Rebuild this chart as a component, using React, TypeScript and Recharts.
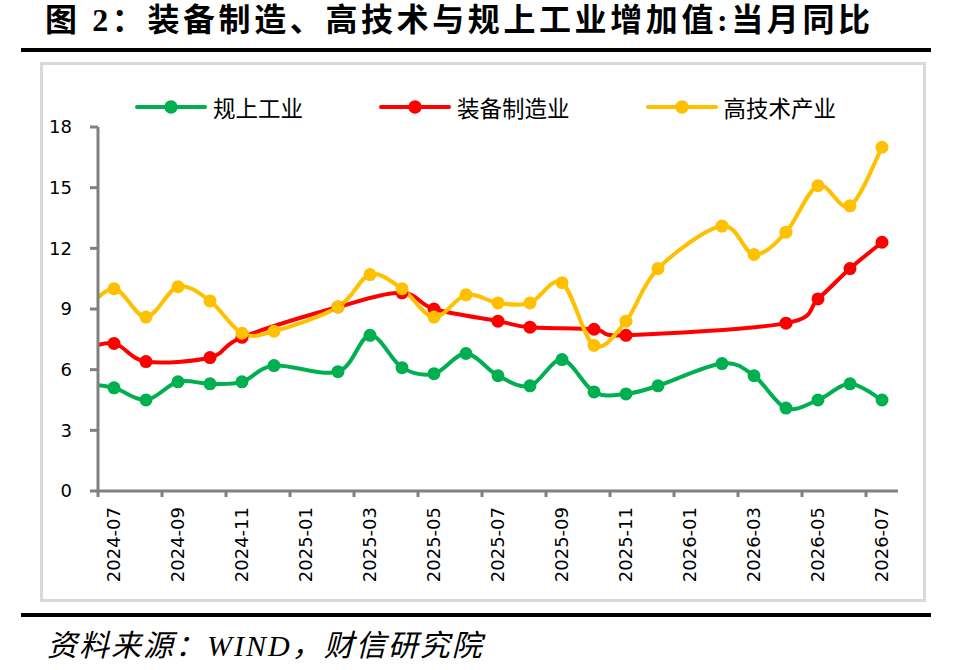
import { LineChart, Line, XAxis, YAxis } from "recharts";

// months on the axis; the first one sits just left of the plot and is clipped
const MONTHS = [
  "2024-06", "2024-07", "2024-08", "2024-09", "2024-10", "2024-11", "2024-12",
  "2025-01", "2025-02", "2025-03", "2025-04", "2025-05", "2025-06", "2025-07",
  "2025-08", "2025-09", "2025-10", "2025-11", "2025-12", "2026-01", "2026-02",
  "2026-03", "2026-04", "2026-05", "2026-06", "2026-07",
];
// 规上工业
const INDUSTRY = [
  5.3, 5.1, 4.5, 5.4, 5.3, 5.4, 6.2, null, 5.9, 7.7, 6.1, 5.8, 6.8, 5.7,
  5.2, 6.5, 4.9, 4.8, 5.2, null, 6.3, 5.7, 4.1, 4.5, 5.3, 4.5,
];
// 装备制造业
const EQUIPMENT = [
  7.0, 7.3, 6.4, null, 6.6, 7.6, null, null, 9.1, null, 9.8, 9.0, null, 8.4,
  8.1, null, 8.0, 7.7, null, null, null, null, 8.3, 9.5, 11.0, 12.3,
];
// 高技术产业
const HIGH_TECH = [
  8.8, 10.0, 8.6, 10.1, 9.4, 7.8, 7.9, null, 9.1, 10.7, 10.0, 8.6, 9.7, 9.3,
  9.3, 10.3, 7.2, 8.4, 11.0, null, 13.1, 11.7, 12.8, 15.1, 14.1, 17.0,
];
const X_TICK_LABELS = [
  "2024-07", "2024-09", "2024-11", "2025-01", "2025-03", "2025-05", "2025-07",
  "2025-09", "2025-11", "2026-01", "2026-03", "2026-05", "2026-07",
];
const Y_TICKS = [0, 3, 6, 9, 12, 15, 18];

const SERIES = [
  { key: "industry", name: "规上工业", color: "#00B050" },
  { key: "equipment", name: "装备制造业", color: "#FF0000" },
  { key: "hightech", name: "高技术产业", color: "#FFC000" },
];

const W = 956;
const H = 670;
const PLOT_LEFT = 98;
const PLOT_RIGHT = 898;
const PLOT_TOP = 127;
const PLOT_BOTTOM = 491;
const Y_AXIS_W = 60;
const X_AXIS_H = 100;

const FIRST = MONTHS.indexOf(X_TICK_LABELS[0]);
const COUNT = MONTHS.length - FIRST;
const HALF_BAND = (PLOT_RIGHT - PLOT_LEFT) / COUNT / 2;

const data = MONTHS.map((m, k) => ({
  pos: k - FIRST,
  month: m,
  industry: INDUSTRY[k],
  equipment: EQUIPMENT[k],
  hightech: HIGH_TECH[k],
}));

// tick marks sit on the boundaries between months, labels in the middle
const xTicks = X_TICK_LABELS.map((l) => MONTHS.indexOf(l) - FIRST - 0.5);

const AXIS = "#808080";
const TICK_FONT = "'DejaVu Sans', sans-serif";

// excel-like smoothed line (catmull-rom through the points)
function smooth(context: any) {
  let pts: number[][] = [];
  return {
    areaStart() {},
    areaEnd() {},
    lineStart() {
      pts = [];
    },
    point(x: number, y: number) {
      pts.push([+x, +y]);
    },
    lineEnd() {
      const n = pts.length;
      if (!n) return;
      context.moveTo(pts[0][0], pts[0][1]);
      for (let i = 0; i < n - 1; i++) {
        const p0 = pts[Math.max(i - 1, 0)];
        const p1 = pts[i];
        const p2 = pts[i + 1];
        const p3 = pts[Math.min(i + 2, n - 1)];
        context.bezierCurveTo(
          p1[0] + (p2[0] - p0[0]) / 6,
          p1[1] + (p2[1] - p0[1]) / 6,
          p2[0] - (p3[0] - p1[0]) / 6,
          p2[1] - (p3[1] - p1[1]) / 6,
          p2[0],
          p2[1]
        );
      }
    },
  };
}

function MonthTick(props: any) {
  const { x, y, payload } = props;
  const label = MONTHS[payload.value + 0.5 + FIRST];
  const tx = x + HALF_BAND;
  return (
    <text
      x={tx}
      y={y}
      dy="0.36em"
      transform={`rotate(-90, ${tx}, ${y})`}
      textAnchor="end"
      fontFamily={TICK_FONT}
      fontSize={18}
      fill="#000"
    >
      {label}
    </text>
  );
}

function LegendRow() {
  return (
    <div
      style={{
        position: "absolute",
        left: 135,
        top: 92,
        display: "flex",
        alignItems: "center",
        gap: 76,
        height: 30,
      }}
    >
      {SERIES.map((s) => (
        <div key={s.key} style={{ display: "flex", alignItems: "center" }}>
          <svg width={72} height={16}>
            <line x1={2} y1={8} x2={70} y2={8} stroke={s.color} strokeWidth={4} strokeLinecap="round" />
            <circle cx={36} cy={8} r={6.7} fill={s.color} />
          </svg>
          <span
            style={{
              marginLeft: 6,
              fontFamily: "'Noto Sans CJK SC', sans-serif",
              fontSize: 22.5,
              lineHeight: "30px",
              color: "#000",
            }}
          >
            {s.name}
          </span>
        </div>
      ))}
    </div>
  );
}

export default function App() {
  return (
    <div style={{ position: "relative", width: W, height: H, background: "#fff", overflow: "hidden" }}>
      <style>{"body{margin:0}"}</style>
      <div
        style={{
          position: "absolute",
          left: 45,
          top: 0,
          lineHeight: "40px",
          fontSize: 32,
          fontWeight: 700,
          letterSpacing: 3.6,
          whiteSpace: "nowrap",
          fontFamily: "'Liberation Serif', 'Noto Sans CJK SC', serif",
          color: "#000",
        }}
      >
        图 2：装备制造、高技术与规上工业增加值:当月同比
      </div>
      <div style={{ position: "absolute", left: 21, top: 48, width: 910, height: 4, background: "#000" }} />
      <div
        style={{
          position: "absolute",
          left: 40,
          top: 62,
          width: 886,
          height: 540,
          boxSizing: "border-box",
          border: "3px solid #d9d9d9",
        }}
      />
      <div style={{ position: "absolute", left: 21, top: 613, width: 910, height: 4, background: "#000" }} />
      <div
        style={{
          position: "absolute",
          left: 47,
          top: 628,
          lineHeight: "36px",
          fontSize: 30,
          fontStyle: "italic",
          letterSpacing: 2,
          whiteSpace: "nowrap",
          fontFamily: "'Liberation Serif', 'Noto Sans CJK SC', serif",
          color: "#000",
        }}
      >
        资料来源：WIND，财信研究院
      </div>
      <LegendRow />
      <div style={{ position: "absolute", left: 0, top: 0 }}>
        <LineChart
          width={W}
          height={H}
          data={data}
          margin={{
            top: PLOT_TOP,
            right: W - PLOT_RIGHT,
            bottom: H - PLOT_BOTTOM - X_AXIS_H,
            left: PLOT_LEFT - Y_AXIS_W,
          }}
        >
          <XAxis
            type="number"
            dataKey="pos"
            domain={[-0.5, COUNT - 0.5]}
            allowDataOverflow
            ticks={xTicks}
            interval={0}
            height={X_AXIS_H}
            tick={<MonthTick />}
            tickSize={6}
            tickMargin={10}
            axisLine={{ stroke: AXIS, strokeWidth: 3 }}
            tickLine={{ stroke: AXIS, strokeWidth: 3 }}
          />
          <YAxis
            type="number"
            domain={[0, 18]}
            ticks={Y_TICKS}
            interval={0}
            width={Y_AXIS_W}
            tickSize={8}
            tickMargin={18}
            axisLine={{ stroke: AXIS, strokeWidth: 3 }}
            tickLine={{ stroke: AXIS, strokeWidth: 3 }}
            tick={{ fill: "#000", fontSize: 18, fontFamily: TICK_FONT }}
          />
          {SERIES.map((s) => (
            <Line
              key={s.key}
              dataKey={s.key}
              name={s.name}
              type={smooth as any}
              stroke={s.color}
              strokeWidth={4}
              connectNulls
              dot={{ r: 6.5, fill: s.color, stroke: s.color, strokeWidth: 0 }}
              activeDot={false}
              isAnimationActive={false}
            />
          ))}
        </LineChart>
      </div>
    </div>
  );
}
